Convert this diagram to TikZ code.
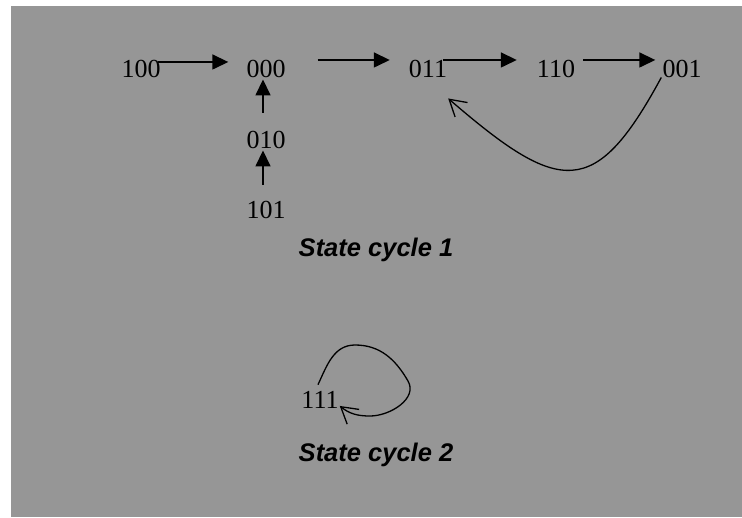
\documentclass[tikz,border=0pt]{standalone}
\usepackage{xcolor}
\usepackage{fontspec}
\setmainfont{Liberation Serif}
\newfontfamily\cyclefont{Liberation Sans}
\usepackage{pgf, tikz}
\usetikzlibrary{arrows.meta}

\definecolor{sheetgray}{RGB}{150,150,150}

\begin{document}
\begin{tikzpicture}[x=1pt, y=-1pt,
        state/.style={inner sep=0pt, anchor=base, font=\fontsize{26}{30}\selectfont},
        cyclelabel/.style={inner sep=0pt, anchor=base, font=\cyclefont\bfseries\itshape\fontsize{25.5}{30}\selectfont},
        go/.style={line width=1.6pt, -{Triangle[length=16pt, width=15pt]}},
        back/.style={line width=1.3pt, -{Straight Barb[length=16pt, width=19pt]}}]
        \useasboundingbox (0, 0) rectangle (742, 517);
        \fill[sheetgray] (11, 6) rectangle (742, 517);

        \node[state] (n100) at (141, 77) {100};
        \node[state] (n000) at (266, 77) {000};
        \node[state] (n011) at (428, 77) {011};
        \node[state] (n110) at (556, 77) {110};
        \node[state] (n001) at (682, 77) {001};
        \node[state] (n010) at (266, 148) {010};
        \node[state] (n101) at (266, 218) {101};
        \node[state] (n111) at (320, 408) {111};

        \node[cyclelabel] (cycle1) at (376, 256) {State cycle 1};
        \node[cyclelabel] (cycle2) at (376, 461) {State cycle 2};

        \draw[go] ([xshift=-3pt, yshift=6.5pt]n100.east) -- ([xshift=-18pt, yshift=6.5pt]n000.west);
        \draw[go] ([xshift=32pt, yshift=8.5pt]n000.east) -- ([xshift=-19pt, yshift=8.5pt]n011.west);
        \draw[go] ([xshift=-4pt, yshift=8.5pt]n011.east) -- ([xshift=-20pt, yshift=8.5pt]n110.west);
        \draw[go] ([xshift=8pt, yshift=8.5pt]n110.east) -- ([xshift=-7pt, yshift=8.5pt]n001.west);
        \draw[go] ([xshift=-3pt, yshift=18pt]n010.north) -- ([xshift=-3pt, yshift=-2pt]n000.south);
        \draw[go] ([xshift=-3pt, yshift=16pt]n101.north) -- ([xshift=-3pt, yshift=-2pt]n010.south);

        \draw[back] ([xshift=-1pt]n001.south west) .. controls (595, 200) and (560, 195) .. ([xshift=1pt, yshift=-21pt]n011.south east);
        \draw[back] ([xshift=-2pt, yshift=6pt]n111.north) to[out=65, in=180] (355, 345)
                to[out=0, in=120] (408, 381) to[out=-60, in=0] (370, 416)
                to[out=180, in=-39] ([xshift=1pt, yshift=-6.5pt]n111.east);
    \end{tikzpicture}
\end{document}
